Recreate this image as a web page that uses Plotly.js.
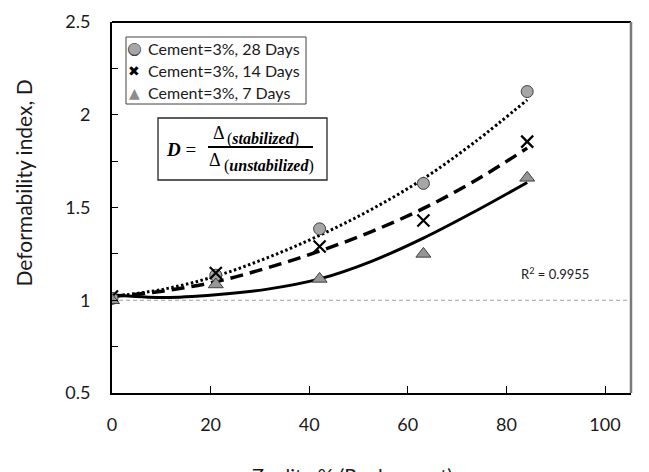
<!DOCTYPE html>
<html>
<head>
<meta charset="utf-8">
<script src="https://cdn.plot.ly/plotly-3.0.1.min.js"></script>
<style>
html,body{margin:0;padding:0;background:#fff;}
#chart{width:649px;height:472px;}
</style>
</head>
<body>
<div id="chart"></div>
<script>
// ---- data ----
const zeolite = [0, 20, 40, 60, 80];
const d28 = [1.01, 1.135, 1.385, 1.63, 2.125];
const d14 = [1.02, 1.147, 1.29, 1.43, 1.855];
const d7  = [1.0, 1.085, 1.115, 1.25, 1.66];

// trendlines
const trendX = [0, 10, 20, 30, 40, 50, 60, 70, 80];
const trend28 = [1.02, 1.06, 1.13, 1.23, 1.35, 1.49, 1.655, 1.855, 2.08];
const trend14 = [1.02, 1.05, 1.10, 1.175, 1.265, 1.37, 1.495, 1.645, 1.82];
const trend7  = [1.03, 1.015, 1.03, 1.06, 1.115, 1.21, 1.335, 1.48, 1.635];

const names = ['Cement=3%, 28 Days', 'Cement=3%, 14 Days', 'Cement=3%, 7 Days'];
const xTicks = [0, 20, 40, 60, 80, 100];
const yTicks = [0.5, 1, 1.5, 2, 2.5];
const yTickText = ['0.5', '1', '1.5', '2', '2.5'];
const baseline = 1;
const r2Text = 'R<sup>2</sup> = 0.9955';

const FONT = 'Lato, "Open Sans", sans-serif';
const SERIF = '"Liberation Serif", "DejaVu Serif", serif';
const SYM = '"DejaVu Sans", sans-serif';

const traces = [
  // anchor trace so the visible x axis (tick labels) is drawn
  {x: [], y: [], xaxis: 'x', yaxis: 'y', mode: 'markers', showlegend: false, hoverinfo: 'skip'},
  {x: trendX, y: trend28, xaxis: 'x2', yaxis: 'y', mode: 'lines', showlegend: false, hoverinfo: 'skip',
   line: {color: '#000', width: 3, dash: '2.5px,2.5px', shape: 'spline'}},
  {x: trendX, y: trend14, xaxis: 'x2', yaxis: 'y', mode: 'lines', showlegend: false, hoverinfo: 'skip',
   line: {color: '#000', width: 3.5, dash: '13px,7px', shape: 'spline'}},
  {x: trendX, y: trend7, xaxis: 'x2', yaxis: 'y', mode: 'lines', showlegend: false, hoverinfo: 'skip',
   line: {color: '#000', width: 3, shape: 'spline'}},
  {x: zeolite, y: d28, xaxis: 'x2', yaxis: 'y', mode: 'markers', name: names[0], showlegend: false,
   marker: {symbol: 'circle', size: 12, color: '#a6a6a6', line: {color: '#404040', width: 1}}},
  {x: zeolite, y: d14, xaxis: 'x2', yaxis: 'y', mode: 'markers', name: names[1], showlegend: false,
   marker: {symbol: 'x-thin-open', size: 12, color: '#000', line: {color: '#000', width: 2.2}}},
  {x: zeolite, y: d7, xaxis: 'x2', yaxis: 'y', mode: 'markers', name: names[2], showlegend: false,
   marker: {symbol: 'triangle-up', size: 13, color: '#969696', line: {color: '#404040', width: 1}}}
];

// legend drawn as a boxed list (paper coordinates)
const px = v => (v - 112) / 519;
const py = v => (393 - v) / 371;
const legRows = [48.5, 70.5, 92.5];
const legendAnn = [];
legendAnn.push({text: '●', x: px(134), y: py(legRows[0]), font: {family: SYM, size: 17, color: '#404040'}});
legendAnn.push({text: '●', x: px(134), y: py(legRows[0]), font: {family: SYM, size: 15, color: '#a6a6a6'}});
legendAnn.push({text: '✖', x: px(134), y: py(legRows[1]), font: {family: SYM, size: 14, color: '#000'}});
legendAnn.push({text: '▲', x: px(134), y: py(legRows[2]), font: {family: SYM, size: 14, color: '#8c8c8c'}});
legendAnn.forEach(a => Object.assign(a, {xref: 'paper', yref: 'paper', showarrow: false, xanchor: 'center', yanchor: 'middle'}));
names.forEach((n, i) => legendAnn.push({text: n, xref: 'paper', yref: 'paper', x: px(145.5), y: py(legRows[i]),
  showarrow: false, xanchor: 'left', yanchor: 'middle', font: {family: FONT, size: 16, color: '#1a1a1a'}}));

const layout = {
  width: 649, height: 472,
  margin: {l: 112, r: 18, t: 22, b: 79},
  paper_bgcolor: '#fff', plot_bgcolor: '#fff',
  font: {family: FONT, color: '#1a1a1a'},
  showlegend: false,
  xaxis: {range: [0, 105.27], tickvals: xTicks, ticktext: xTicks.map(String),
          ticks: 'inside', ticklen: 7, tickwidth: 1, tickcolor: '#000',
          showline: true, linecolor: '#000', linewidth: 2, showgrid: false, zeroline: false,
          tickfont: {family: FONT, size: 18, color: '#1a1a1a'}, ticklabelstandoff: 14},
  xaxis2: {range: [0, 100], overlaying: 'x', anchor: 'y', visible: false},
  yaxis: {range: [0.5, 2.5], tickvals: yTicks, ticktext: yTickText,
          ticks: 'inside', ticklen: 6, tickwidth: 1, tickcolor: '#000',
          minor: {dtick: 0.25, tick0: 0.5, ticks: 'inside', ticklen: 6, tickwidth: 1, tickcolor: '#000', showgrid: false},
          showline: true, linecolor: '#000', linewidth: 2, showgrid: false, zeroline: false,
          tickfont: {family: FONT, size: 18, color: '#1a1a1a'}, ticklabelstandoff: 16},
  shapes: [
    {type: 'line', xref: 'paper', yref: 'y', x0: 0, x1: 1, y0: baseline, y1: baseline,
     line: {color: '#a0a0a0', width: 1, dash: '4px,3px'}, layer: 'below'},
    {type: 'line', xref: 'paper', yref: 'paper', x0: 0, x1: 1, y0: 1, y1: 1, line: {color: '#000', width: 2}},
    {type: 'line', xref: 'paper', yref: 'paper', x0: 1, x1: 1, y0: 0, y1: 1, line: {color: '#7a7a7a', width: 2.5}},
    // legend box
    {type: 'rect', xref: 'paper', yref: 'paper', x0: px(126), x1: px(306), y0: py(104), y1: py(37),
     line: {color: '#404040', width: 1}, fillcolor: '#fff'},
    // equation box
    {type: 'rect', xref: 'paper', yref: 'paper', x0: px(158), x1: px(327), y0: py(180), y1: py(118),
     line: {color: '#262626', width: 1.3}, fillcolor: '#fff'},
    // fraction bar
    {type: 'line', xref: 'paper', yref: 'paper', x0: px(208), x1: px(313), y0: py(147), y1: py(147),
     line: {color: '#000', width: 2}}
  ],
  annotations: [
    {text: 'Deformability index, D', xref: 'paper', yref: 'paper', x: px(23), y: py(183.5),
     textangle: -90, showarrow: false, font: {family: FONT, size: 21, color: '#1a1a1a'},
     xanchor: 'center', yanchor: 'middle'},
    {text: 'Zeolite % (Replacment)', xref: 'paper', yref: 'paper', x: px(352), y: py(461),
     showarrow: false, font: {family: FONT, size: 20, color: '#1a1a1a'}, xanchor: 'center', yanchor: 'top'},
    {text: r2Text, xref: 'paper', yref: 'paper', x: px(555), y: py(273), showarrow: false,
     font: {family: FONT, size: 13, color: '#1a1a1a'}, xanchor: 'center', yanchor: 'middle'},
    {text: '<b><i>D</i></b> =', xref: 'paper', yref: 'paper', x: px(181), y: py(149), showarrow: false,
     font: {family: SERIF, size: 19, color: '#000'}, xanchor: 'center', yanchor: 'middle'},
    {text: 'Δ', xref: 'paper', yref: 'paper', x: px(219), y: py(132.5), showarrow: false,
     font: {family: SERIF, size: 18, color: '#000'}, xanchor: 'center', yanchor: 'middle'},
    {text: '(<b><i>stabilized</i></b>)', xref: 'paper', yref: 'paper', x: px(225), y: py(138.5), showarrow: false,
     font: {family: SERIF, size: 16, color: '#000'}, xanchor: 'left', yanchor: 'middle'},
    {text: 'Δ', xref: 'paper', yref: 'paper', x: px(215), y: py(160), showarrow: false,
     font: {family: SERIF, size: 18, color: '#000'}, xanchor: 'center', yanchor: 'middle'},
    {text: '(<b><i>unstabilized</i></b>)', xref: 'paper', yref: 'paper', x: px(221.5), y: py(166), showarrow: false,
     font: {family: SERIF, size: 16, color: '#000'}, xanchor: 'left', yanchor: 'middle'}
  ].concat(legendAnn)
};

Plotly.newPlot('chart', traces, layout, {displayModeBar: false, staticPlot: true});
</script>
</body>
</html>
